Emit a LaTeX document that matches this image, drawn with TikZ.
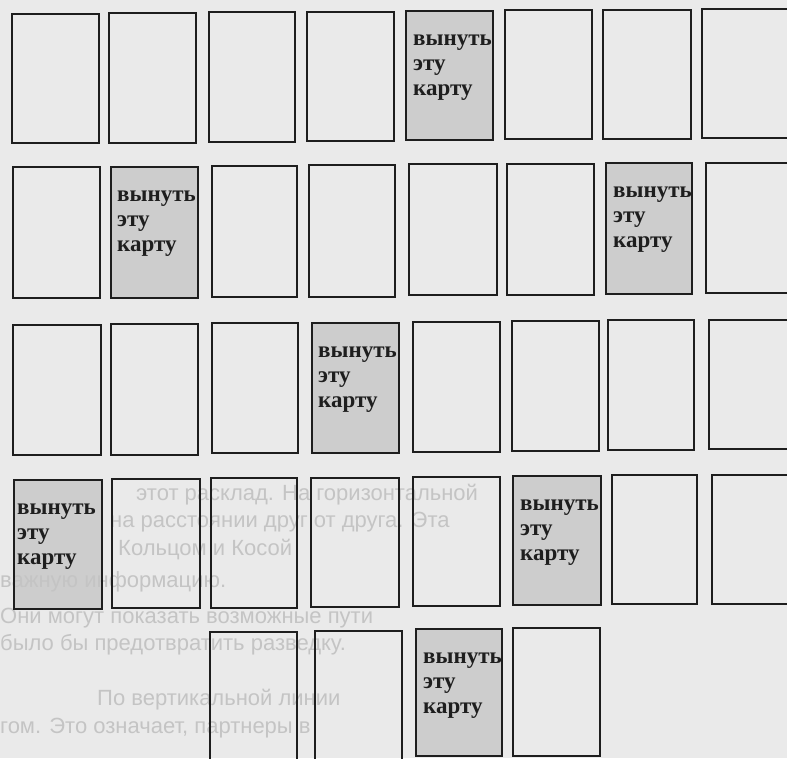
\documentclass[tikz,border=0pt]{standalone}
\usepackage{fontspec}
\setmainfont{Liberation Serif}
\newfontfamily\bgsans{Liberation Sans}
\definecolor{paper}{HTML}{EAEAEA}
\definecolor{cardgrey}{HTML}{CDCDCD}
\definecolor{ink}{HTML}{1E1E1E}
\definecolor{ghost}{HTML}{C4C4C4}
\begin{document}
\begin{tikzpicture}[x=1pt,y=-1pt,
  card/.style={draw=ink, line width=1.8pt},
  lbl/.style={anchor=base west, inner sep=0pt, font=\fontsize{23}{25}\selectfont\bfseries, text=ink},
  ghosttxt/.style={anchor=base west, inner sep=0pt, font=\bgsans\fontsize{22}{25}\selectfont, text=ghost}]
\useasboundingbox (0,0) rectangle (787,758);
\clip (0,0) rectangle (787,758);
\fill[paper] (0,0) rectangle (787,758);
% shaded cards
\foreach \a/\b/\c/\d in {406/11/493/140, 111/167/198/298, 606/163/692/294,
  312/323/399/453, 14/480/102/609, 513/476/601/605, 416/629/502/756}
  \fill[cardgrey] (\a,\b) rectangle (\c,\d);
% faint show-through text
\node[ghosttxt] (g1) at (136,500) {этот расклад. На горизонтальной};
\node[ghosttxt] (g2) at (110,527) {на расстоянии друг от друга. Эта};
\node[ghosttxt] (g3) at (118,555) {Кольцом и Косой};
\node[ghosttxt] (g4) at (0,587) {важную информацию.};
\node[ghosttxt] (g5) at (0,623) {Они могут показать возможные пути};
\node[ghosttxt] (g6) at (0,650) {было бы предотвратить разведку.};
\node[ghosttxt] (g7) at (97,705) {По вертикальной линии};
\node[ghosttxt] (g8) at (0,733) {гом. Это означает, партнеры в};
% card outlines
\foreach \a/\b/\c/\d in {
  12/14/99/143, 109/13/196/143, 209/12/295/142, 307/12/394/141,
  406/11/493/140, 505/10/592/139, 603/10/691/139, 702/9/800/138,
  13/167/100/298, 111/167/198/298, 212/166/297/297, 309/165/395/297,
  409/164/497/295, 507/164/594/295, 606/163/692/294, 706/163/800/293,
  13/325/101/455, 111/324/198/455, 212/323/298/453, 312/323/399/453,
  413/322/500/452, 512/321/599/451, 608/320/694/450, 709/320/800/449,
  14/480/102/609, 112/479/200/608, 211/478/297/608, 311/478/399/607,
  413/477/500/606, 513/476/601/605, 612/475/697/604, 712/475/800/604,
  210/632/297/770, 315/631/402/770, 416/629/502/756, 513/628/600/756}
  \draw[card] (\a,\b) rectangle (\c,\d);
% labels
\foreach \n/\x/\y in {la/413/11, lb/117/167, lc/613/163, ld/318/323,
  le/17/480, lf/520/476, lg/423/629}{
  \node[lbl] (\n-1) at (\x,\y+34) {вынуть};
  \node[lbl] (\n-2) at (\x,\y+59) {эту};
  \node[lbl] (\n-3) at (\x,\y+84) {карту};
}
\end{tikzpicture}
\end{document}
